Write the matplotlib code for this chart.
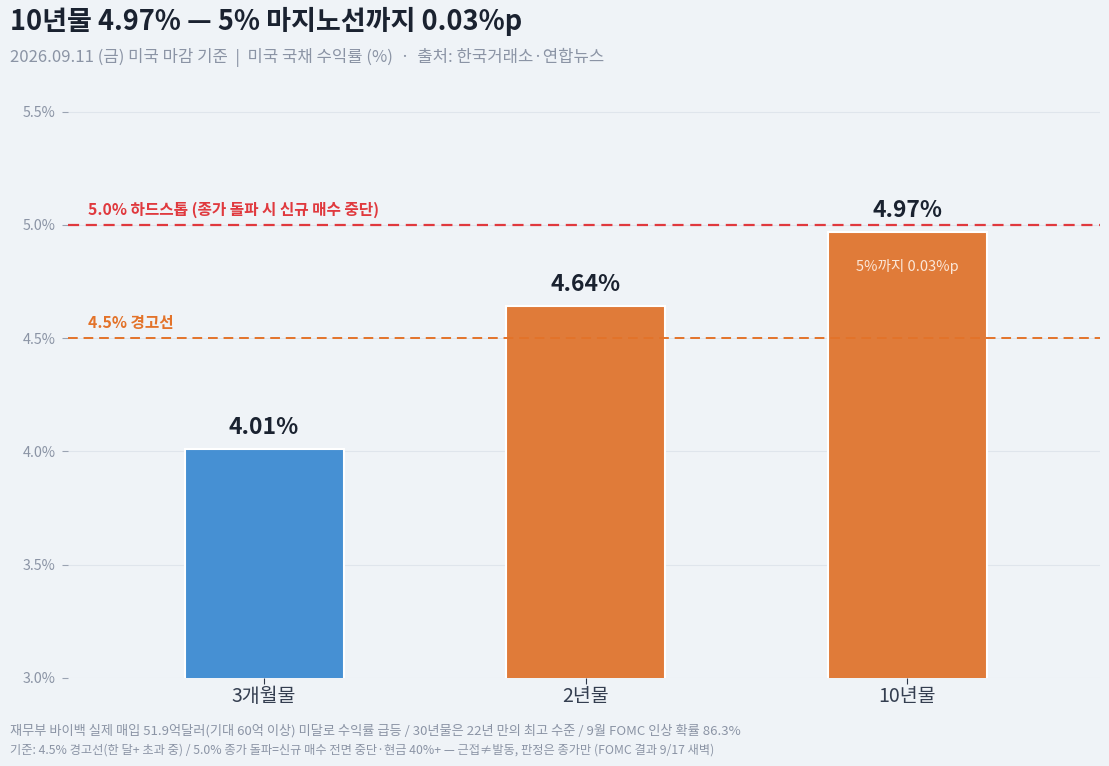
import matplotlib
matplotlib.use("Agg")
import matplotlib.pyplot as plt

plt.rcParams['font.family'] = ['Noto Sans CJK KR', 'DejaVu Sans']

categories = ['3개월물', '2년물', '10년물']
yields = [4.01, 4.64, 4.97]
bar_colors = ['#4690d3', '#e07b39', '#e07b39']
value_labels = ['4.01%', '4.64%', '4.97%']
yticks = [3.0, 3.5, 4.0, 4.5, 5.0, 5.5]
ytick_labels = ['3.0%', '3.5%', '4.0%', '4.5%', '5.0%', '5.5%']
hardstop = 5.0
warning = 4.5

bg = '#eff3f7'
fig = plt.figure(figsize=(11.09, 7.66), dpi=100, facecolor=bg)
ax = fig.add_axes([0.0613, 0.1149, 0.9307, 0.7689])
ax.set_facecolor(bg)

x = list(range(len(categories)))
ax.bar(x, yields, width=0.495, color=bar_colors, edgecolor='white', linewidth=1.5, zorder=3)

ax.set_ylim(3.0, 5.6)
ax.set_xlim(-0.61, 2.6)
ax.set_yticks(yticks)
ax.set_yticklabels(ytick_labels)
ax.set_xticks(x)
ax.set_xticklabels(categories)
ax.grid(axis='y', color='#dfe5ec', linewidth=0.8, zorder=0)
for s in ax.spines.values():
    s.set_visible(False)
ax.tick_params(axis='y', colors='#9aa3b2', labelsize=10.3, length=4, width=0.8, pad=5)
ax.tick_params(axis='x', colors='#2d3748', labelsize=14, length=4, width=0.8, pad=2)
for lbl in ax.get_xticklabels():
    lbl.set_color('#343e50')
    lbl.set_fontweight('medium')
for lbl in ax.get_yticklabels():
    lbl.set_color('#8b94a5')

ax.axhline(hardstop, color='#e0393e', linestyle=(0, (5, 3)), linewidth=1.6, zorder=4)
ax.axhline(warning, color='#e3732a', linestyle=(0, (5, 3)), linewidth=1.4, zorder=4)
ax.text(-0.548, hardstop + 0.03, '5.0% 하드스톱 (종가 돌파 시 신규 매수 중단)', color='#e0393e',
        fontsize=11.3, fontweight='bold', va='bottom', ha='left')
ax.text(-0.548, warning + 0.03, '4.5% 경고선', color='#e3732a',
        fontsize=11.3, fontweight='bold', va='bottom', ha='left')

for xi, v, lab in zip(x, yields, value_labels):
    ax.text(xi, v + 0.045, lab, ha='center', va='bottom', fontsize=16.5, fontweight='bold',
            color='#1a2230', zorder=5)

ax.text(x[2], yields[2] - 0.155, '5%까지 0.03%p', ha='center', va='center', fontsize=10.5,
        color='#fbe7d8', zorder=5)

fig.text(0.009, 0.972, '10년물 4.97% — 5% 마지노선까지 0.03%p', fontsize=19.5, fontweight='bold',
         color='#1a2230', ha='left', va='center')
fig.text(0.009, 0.925, '2026.09.11 (금) 미국 마감 기준  |  미국 국채 수익률 (%)  ·  출처: 한국거래소·연합뉴스',
         fontsize=12, color='#8b94a5', ha='left', va='center')
fig.text(0.009, 0.046, '재무부 바이백 실제 매입 51.9억달러(기대 60억 이상) 미달로 수익률 급등 / 30년물은 22년 만의 최고 수준 / 9월 FOMC 인상 확률 86.3%',
         fontsize=9.5, color='#8b94a5', ha='left', va='center')
fig.text(0.009, 0.021, '기준: 4.5% 경고선(한 달+ 초과 중) / 5.0% 종가 돌파=신규 매수 전면 중단·현금 40%+ — 근접≠발동, 판정은 종가만 (FOMC 결과 9/17 새벽)',
         fontsize=8.8, color='#8b94a5', ha='left', va='center')

fig.savefig('out.png', dpi=100, facecolor=bg)
